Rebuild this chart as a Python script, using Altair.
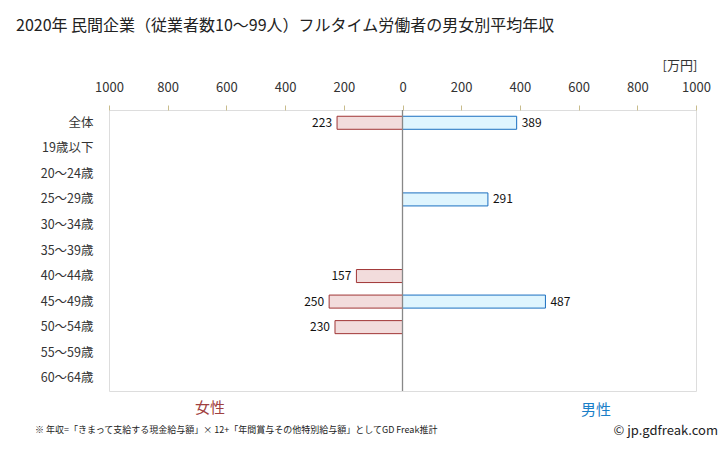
import altair as alt
import pandas as pd

categories = ["全体", "19歳以下", "20～24歳", "25～29歳", "30～34歳", "35～39歳",
              "40～44歳", "45～49歳", "50～54歳", "55～59歳", "60～64歳"]
female = [223, None, None, None, None, None, 157, 250, 230, None, None]
male = [389, None, None, 291, None, None, None, 487, None, None, None]
tick_values = [-1000, -800, -600, -400, -200, 0, 200, 400, 600, 800, 1000]

rows = []
for c, f, m in zip(categories, female, male):
    if f is not None:
        rows.append({"cat": c, "sex": "女性", "v": -f, "label": str(f)})
    if m is not None:
        rows.append({"cat": c, "sex": "男性", "v": m, "label": str(m)})
df = pd.DataFrame(rows)

FONT = "Noto Sans CJK JP"

xscale = alt.Scale(domain=[-1000, 1000], nice=False)
yenc = alt.Y("cat:N", sort=categories, scale=alt.Scale(domain=categories, paddingInner=0.49, paddingOuter=0.245),
             axis=alt.Axis(title=None, ticks=False, domain=False, labelPadding=16,
                           labelFontSize=12.5, labelColor="#333333", labelFont=FONT))

base = alt.Chart(df)

bars = base.mark_bar(strokeWidth=1).encode(
    x=alt.X("v:Q", scale=xscale,
            axis=alt.Axis(orient="top", values=tick_values, labelExpr="abs(datum.value)",
                          title=None, grid=False, domain=False, tickSize=5, tickColor="#c8bc8c",
                          labelFlush=False, labelOverlap=False, labelBound=False,
                          labelPadding=11, labelFontSize=13, labelColor="#333333", labelFont=FONT)),
    x2=alt.datum(0),
    y=yenc,
    fill=alt.Fill("sex:N", scale=alt.Scale(domain=["女性", "男性"], range=["#f2dcdc", "#dff5fe"]), legend=None),
    stroke=alt.Stroke("sex:N", scale=alt.Scale(domain=["女性", "男性"], range=["#a03535", "#1a6fc0"]), legend=None),
)

fem_text = base.transform_filter(alt.datum.sex == "女性").mark_text(
    align="right", dx=-5, fontSize=12, font=FONT, color="#111111").encode(
    x=alt.X("v:Q", scale=xscale), y=alt.Y("cat:N", sort=categories), text="label:N")
male_text = base.transform_filter(alt.datum.sex == "男性").mark_text(
    align="left", dx=5, fontSize=12, font=FONT, color="#111111").encode(
    x=alt.X("v:Q", scale=xscale), y=alt.Y("cat:N", sort=categories), text="label:N")

center = alt.Chart(pd.DataFrame({"z": [0]})).mark_rule(color="#888888", strokeWidth=1.3).encode(
    x=alt.X("z:Q", scale=xscale))

def note(text, x, y, size, color="#222222", align="left"):
    return alt.Chart(pd.DataFrame({"t": [text]})).mark_text(
        align=align, baseline="middle", fontSize=size, font=FONT, color=color).encode(
        x=alt.value(x), y=alt.value(y), text="t:N")

title = note("2020年 民間企業（従業者数10～99人）フルタイム労働者の男女別平均年収", -93, -84, 16)
unit = note("[万円]", 571, -44, 13, color="#333333", align="center")
fem_leg = note("女性", 101, 298, 15, color="#a04040", align="center")
male_leg = note("男性", 487, 300, 15, color="#1a7fc8", align="center")
foot = note("※ 年収=「きまって支給する現金給与額」× 12+「年間賞与その他特別給与額」としてGD Freak推計", -74, 320, 9)
copy = note("© jp.gdfreak.com", 609, 321, 13, color="#222222", align="right")

chart = alt.layer(bars, center, fem_text, male_text, title, unit, fem_leg, male_leg, foot, copy).properties(
    width=587, height=281,
    autosize=alt.AutoSizeParams(type="none"),
    padding={"left": 101, "top": 102, "right": 24, "bottom": 60},
).configure_view(fill="#fffffa", stroke="#c8bc8c", strokeWidth=1.5).configure(background="white")

chart.save("out.html", embed_options={"renderer": "svg", "actions": False})
